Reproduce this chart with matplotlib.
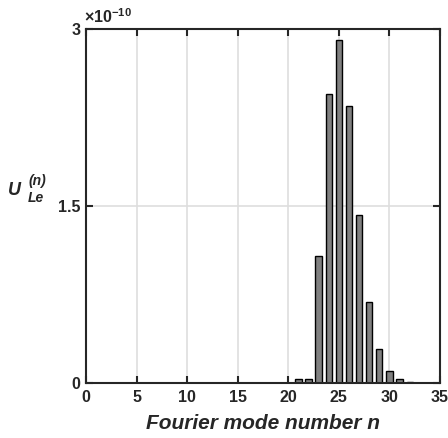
import numpy as np
import matplotlib
matplotlib.use('Agg')
import matplotlib.pyplot as plt

plt.rcParams['font.family'] = ['Liberation Sans', 'DejaVu Sans']
plt.rcParams['font.weight'] = 'bold'
plt.rcParams['mathtext.fontset'] = 'custom'
plt.rcParams['mathtext.rm'] = 'Liberation Sans'
plt.rcParams['mathtext.it'] = 'Liberation Sans:italic'
plt.rcParams['mathtext.bf'] = 'Liberation Sans:bold'

# Fourier modes and energy (in units of 1e-10)
modes = list(range(21, 35))
energy = [0.034, 0.034, 1.076, 2.45, 2.91, 2.35, 1.42, 0.69, 0.286, 0.10,
          0.034, 0.011, 0.003, 0.003]
xticks = [0, 5, 10, 15, 20, 25, 30, 35]
yticks = [0, 1.5, 3]
ytick_labels = ['0', '1.5', '3']

W, H = 448, 438
fig = plt.figure(figsize=(W / 100, H / 100), dpi=100)
ax = fig.add_axes([86/W, 55/H, 354/W, 354/H])

ax.bar(modes, energy, width=0.62, color='#808080', edgecolor='black',
       linewidth=1.0, zorder=3)

ax.set_xlim(0, 35)
ax.set_ylim(0, 3)
ax.set_xticks(xticks)
ax.set_yticks(yticks)
ax.set_yticklabels(ytick_labels)
ax.grid(True, color='#dedede', linewidth=1.2, zorder=0)
ax.set_axisbelow(True)

dark = '#262626'
for s in ax.spines.values():
    s.set_linewidth(1.5)
    s.set_color(dark)
    s.set_zorder(5)
ax.tick_params(direction='in', length=5, width=1.5, top=True, right=True,
               labelsize=11.5, color=dark, labelcolor=dark)
ax.tick_params(axis='x', pad=5)
ax.tick_params(axis='y', pad=4)

ax.set_xlabel('Fourier mode number n', fontsize=15, fontstyle='italic',
              fontweight='bold', color=dark)
ax.xaxis.set_label_coords(0.5, -0.088)

# y label: U with superscript (n) and subscript Le
def px(x, y):
    return x / W, 1 - y / H

fig.text(*px(8, 195), 'U', fontsize=13, fontstyle='italic', color=dark,
         va='baseline', ha='left')
fig.text(*px(28, 185), '(n)', fontsize=10, fontstyle='italic', color=dark,
         va='baseline', ha='left')
fig.text(*px(28, 202), 'Le', fontsize=10, fontstyle='italic', color=dark,
         va='baseline', ha='left')

# exponent label
fig.text(*px(84, 23), r'$\times\mathregular{10^{-10}}$', fontsize=11.5,
         color=dark, va='baseline', ha='left')

fig.savefig('out.png', dpi=100)
